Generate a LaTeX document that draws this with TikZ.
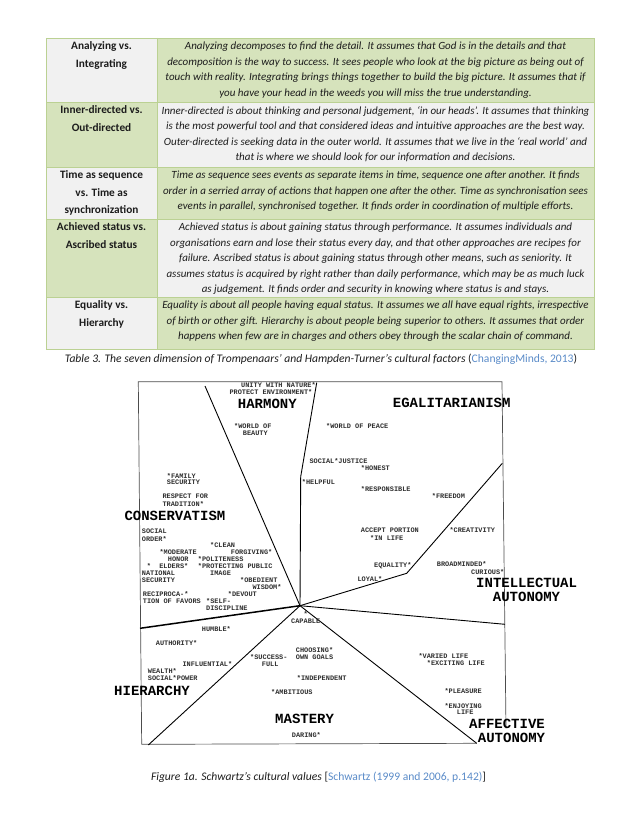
\documentclass[tikz,border=0pt]{standalone}
\usepackage{fontspec}
\setmainfont{Carlito}
\newfontfamily\typewfont{Liberation Mono}
\usetikzlibrary{positioning}
\definecolor{cellgreen}{HTML}{D6E3BC}
\definecolor{cellgrey}{HTML}{F1F1F1}
\definecolor{rulegreen}{HTML}{BBD193}
\definecolor{linkblue}{HTML}{5A8BC8}
\definecolor{ink}{HTML}{1C1C1C}
\definecolor{scan}{HTML}{2E2E2E}
\tikzset{
  dimcell/.style={anchor=north, align=center, inner sep=0pt, text=ink,
                  font=\fontsize{11.3}{17.6}\selectfont\bfseries},
  desccell/.style={anchor=north, align=center, inner sep=0pt, text=ink,
                   font=\fontsize{11}{15.5}\selectfont\itshape},
  captxt/.style={inner sep=0pt, text=ink, font=\fontsize{11.6}{12}\selectfont},
  val/.style={anchor=west, inner sep=0pt, text=scan, font=\typewfont\bfseries\fontsize{6.9}{7}\selectfont},
  pole/.style={anchor=west, inner sep=0pt, text=black, font=\typewfont\bfseries\fontsize{14}{14}\selectfont},
  cut/.style={black, line width=0.9pt},
  frame/.style={black!70, line width=0.7pt},
  rule/.style={rulegreen, line width=0.8pt},
}

\begin{document}
\begin{tikzpicture}[x=1pt, y=-1pt]
    \useasboundingbox (0,0) rectangle (638,826);

    % table: alternating grey / green cells
    \foreach \t/\b/\lc/\rc in {38/102/cellgrey/cellgreen, 102/167/cellgreen/cellgrey, 167/219/cellgrey/cellgreen,
                               219/297/cellgreen/cellgrey, 297/349/cellgrey/cellgreen}
      { \fill[\lc] (46,\t) rectangle (157,\b);
        \fill[\rc] (157,\t) rectangle (594,\b);
        \draw[rule] (46,\t) rectangle (594,\b);
        \draw[rule] (157,\t) -- (157,\b); }

    \node[dimcell] (dim1) at (101.5,41.5) {Analyzing vs.\\Integrating};
    \node[dimcell] (dim2) at (101.5,105.5) {Inner-directed vs.\\Out-directed};
    \node[dimcell] (dim3) at (101.5,170.5) {Time as sequence\\vs. Time as\\synchronization};
    \node[dimcell] (dim4) at (101.5,222.5) {Achieved status vs.\\Ascribed status};
    \node[dimcell] (dim5) at (101.5,300.5) {Equality vs.\\Hierarchy};

    \node[desccell] (desc1) at (375.5,42) {Analyzing decomposes to find the detail. It assumes that God is in the details and that\\
      decomposition is the way to success. It sees people who look at the big picture as being out of\\
      touch with reality. Integrating brings things together to build the big picture. It assumes that if\\
      you have your head in the weeds you will miss the true understanding.};
    \node[desccell] (desc2) at (375.5,106) {Inner-directed is about thinking and personal judgement, ‘in our heads’. It assumes that thinking\\
      is the most powerful tool and that considered ideas and intuitive approaches are the best way.\\
      Outer-directed is seeking data in the outer world. It assumes that we live in the ‘real world’ and\\
      that is where we should look for our information and decisions.};
    \node[desccell] (desc3) at (375.5,171) {Time as sequence sees events as separate items in time, sequence one after another. It finds\\
      order in a serried array of actions that happen one after the other. Time as synchronisation sees\\
      events in parallel, synchronised together. It finds order in coordination of multiple efforts.};
    \node[desccell] (desc4) at (375.5,223) {Achieved status is about gaining status through performance. It assumes individuals and\\
      organisations earn and lose their status every day, and that other approaches are recipes for\\
      failure. Ascribed status is about gaining status through other means, such as seniority. It\\
      assumes status is acquired by right rather than daily performance, which may be as much luck\\
      as judgement. It finds order and security in knowing where status is and stays.};
    \node[desccell] (desc5) at (375.5,301) {Equality is about all people having equal status. It assumes we all have equal rights, irrespective\\
      of birth or other gift. Hierarchy is about people being superior to others. It assumes that order\\
      happens when few are in charges and others obey through the scalar chain of command.};

    \node[captxt] (tabcap) at (321,359) {\itshape Table 3. The seven dimension of Trompenaars’ and Hampden-Turner’s cultural factors
      \upshape(\textcolor{linkblue}{ChangingMinds, 2013})};

    % scanned figure: frame
    \draw[frame] (141.7,744.3) -- (138.3,381.7) -- (502,381.7) -- (506,728.3);
    \draw[frame] (141.7,744.3) -- (476.7,743.3);

    % dividing lines, all from the centre
    \coordinate (ctr) at (300,605.7);
    \coordinate (nw) at (205,386);
    \coordinate (kneeN) at (300.7,476.7);
    \coordinate (nn) at (316.7,382.7);
    \coordinate (kneeE) at (406.7,573.3);
    \coordinate (ne) at (502.3,463.3);
    \coordinate (ee) at (505,624.3);
    \coordinate (se) at (476.7,743.3);
    \coordinate (sw) at (148.3,745);
    \coordinate (ww) at (140,628.3);
    \foreach \e in {nw, ee, se, sw} \draw[cut] (ctr) -- (\e);
    \draw[cut] (ctr) -- (kneeN) -- (nn);
    \draw[cut] (ctr) -- (kneeE) -- (ne);
    \draw[cut, line width=1.5pt] (ctr) -- (ww);

    % value types
    \foreach \x/\y/\t [count=\i] in {241/385/UNITY WITH NATURE*, 229.3/392.3/PROTECT ENVIRONMENT*,
        234/426.3/*WORLD OF, 242.7/433.3/BEAUTY, 326/426.3/*WORLD OF PEACE,
        309.3/461/SOCIAL*JUSTICE, 360.7/468/*HONEST, 301.7/482.3/*HELPFUL,
        360.7/489/*RESPONSIBLE, 431.7/495.7/*FREEDOM,
        166.7/475.7/*FAMILY, 166.7/482.7/SECURITY, 162.3/496.7/RESPECT FOR, 162.3/503.7/TRADITION*,
        141.7/531.7/SOCIAL, 141.7/538.7/ORDER*, 210/545/*CLEAN, 230.7/552.3/FORGIVING*,
        159.3/552.3/*MODERATE, 167.7/559.3/HONOR, 146.7/566.3/*~~ELDERS*,
        197.7/559.3/*POLITENESS, 197.7/566.3/*PROTECTING PUBLIC, 210/573.3/IMAGE,
        141.7/573.3/NATIONAL, 141.7/580.3/SECURITY, 240/580/*OBEDIENT, 252.3/587/WISDOM*,
        142.7/594/RECIPROCA-*, 142.7/601/TION OF FAVORS, 227.7/594/*DEVOUT,
        206/601/*SELF-, 206/608/DISCIPLINE,
        303.5/614.3/*, 291/621.7/CAPABLE, 201.7/629/HUMBLE*, 155.7/643.3/AUTHORITY*,
        182.3/664.3/INFLUENTIAL*, 147.7/671/WEALTH*, 147.7/678.3/SOCIAL*POWER,
        250/657/*SUCCESS-, 261.7/664.3/FULL, 295.7/650/CHOOSING*, 295.7/657/OWN GOALS,
        296.7/678.3/*INDEPENDENT, 271/692.3/*AMBITIOUS, 291.7/734.7/DARING*,
        418.3/656/*VARIED LIFE, 426.7/663.3/*EXCITING LIFE, 444.3/691.3/*PLEASURE,
        444.3/705.7/*ENJOYING, 456.7/712.3/LIFE,
        360.7/530.7/ACCEPT PORTION, 370/537.7/*IN LIFE, 449.3/530.3/*CREATIVITY,
        374/565.3/EQUALITY*, 436.7/564.3/BROADMINDED*, 471/571.7/CURIOUS*, 357.3/579.3/LOYAL*}
      \node[val] (v\i) at (\x,\y) {\t};

    % the seven value orientations
    \foreach \x/\y/\t [count=\i] in {237.7/404/HARMONY, 392.7/403.3/EGALITARIANISM, 124.3/515.7/CONSERVATISM,
        476/583.3/INTELLECTUAL, 492.7/597.3/AUTONOMY, 114/690.7/HIERARCHY, 275/718.7/MASTERY,
        469/724/AFFECTIVE, 477.7/738.3/AUTONOMY}
      \node[pole] (p\i) at (\x,\y) {\t};

    \node[captxt] (figcap) at (318.5,777) {\itshape Figure 1a. Schwartz’s cultural values
      \upshape[\textcolor{linkblue}{Schwartz (1999 and 2006, p.142)}]};
\end{tikzpicture}
\end{document}
